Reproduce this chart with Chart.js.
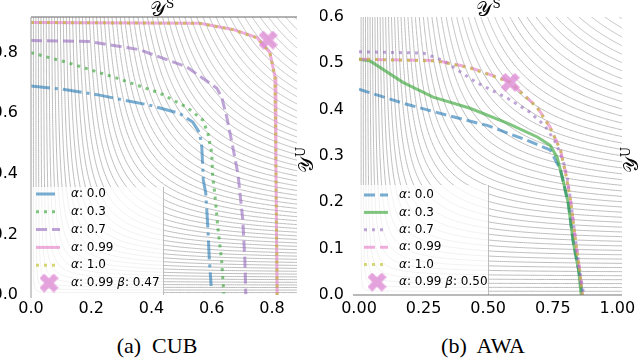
<!DOCTYPE html>
<html>
<head>
<meta charset="utf-8">
<script src="https://cdn.jsdelivr.net/npm/chart.js@4.4.1/dist/chart.umd.min.js"></script>
<style>
  html, body { margin: 0; padding: 0; background: #fff; }
  body { width: 640px; height: 363px; position: relative; overflow: hidden; }
  .panel { position: absolute; top: 0; width: 320px; height: 330px; }
  .cap { position: absolute; top: 333px; font-family: "Liberation Serif", serif; font-size: 22px;
         white-space: pre; transform: translateX(-50%); color: #000; }
</style>
</head>
<body>
<div class="panel" style="left:0"><canvas id="cub" width="320" height="330"></canvas></div>
<div class="panel" style="left:320px"><canvas id="awa" width="320" height="330"></canvas></div>
<div class="cap" style="left:157px">(a)  CUB</div>
<div class="cap" style="left:483px">(b)  AWA</div>
<script>
// ---- data ----
const cubLabels = ["α: 0.0", "α: 0.3", "α: 0.7", "α: 0.99", "α: 1.0", "α: 0.99 β: 0.47"];
const cubXTicks = [0, 0.2, 0.4, 0.6, 0.8];
const cubYTicks = [0, 0.2, 0.4, 0.6, 0.8];
const cubA00 = [[0, 0.69], [0.10, 0.68], [0.227, 0.66], [0.393, 0.627], [0.493, 0.60], [0.537, 0.571],
  [0.56, 0.535], [0.567, 0.488], [0.572, 0.38], [0.58, 0.337], [0.587, 0.224], [0.592, 0.116], [0.598, 0.03]];
const cubA03 = [[0, 0.80], [0.113, 0.77], [0.283, 0.717], [0.427, 0.667], [0.517, 0.62], [0.57, 0.578],
  [0.587, 0.535], [0.60, 0.47], [0.603, 0.39], [0.61, 0.337], [0.62, 0.225], [0.633, 0.112], [0.64, 0.005]];
const cubA07 = [[0, 0.84], [0.193, 0.837], [0.36, 0.81], [0.517, 0.753], [0.617, 0.683], [0.633, 0.653],
  [0.65, 0.587], [0.67, 0.488], [0.687, 0.40], [0.703, 0.248], [0.71, 0.115], [0.713, 0.003]];
const cubA099 = [[0, 0.90], [0.56, 0.897], [0.67, 0.877], [0.75, 0.85], [0.793, 0.80], [0.81, 0.72],
  [0.813, 0.42], [0.817, 0.0]];
const cubA10 = [[0, 0.90], [0.56, 0.897], [0.67, 0.876], [0.75, 0.849], [0.793, 0.80], [0.81, 0.72],
  [0.813, 0.42], [0.817, 0.0]];
const cubBest = [[0.787, 0.842]];

const awaLabels = ["α: 0.0", "α: 0.3", "α: 0.7", "α: 0.99", "α: 1.0", "α: 0.99 β: 0.50"];
const awaXTicks = [0, 0.25, 0.5, 0.75, 1.0];
const awaYTicks = [0, 0.1, 0.2, 0.3, 0.4, 0.5, 0.6];
const awaA00 = [[0, 0.444], [0.17, 0.414], [0.34, 0.388], [0.496, 0.366], [0.65, 0.334], [0.74, 0.313],
  [0.78, 0.27], [0.81, 0.198], [0.83, 0.112], [0.85, 0.054], [0.864, 0.004]];
const awaA03 = [[0, 0.509], [0.043, 0.505], [0.17, 0.459], [0.287, 0.427], [0.43, 0.403], [0.574, 0.371],
  [0.69, 0.341], [0.74, 0.323], [0.767, 0.297], [0.787, 0.254], [0.81, 0.198], [0.83, 0.112], [0.85, 0.054], [0.86, 0.0]];
const awaA07 = [[0, 0.525], [0.25, 0.522], [0.33, 0.505], [0.45, 0.46], [0.574, 0.425], [0.66, 0.395],
  [0.72, 0.365], [0.76, 0.33], [0.79, 0.29], [0.806, 0.254], [0.82, 0.2], [0.84, 0.11], [0.855, 0.05], [0.87, 0.0]];
const awaA099 = [[0, 0.509], [0.30, 0.506], [0.43, 0.491], [0.585, 0.46], [0.69, 0.405], [0.74, 0.362],
  [0.78, 0.313], [0.80, 0.263], [0.82, 0.2], [0.84, 0.11], [0.855, 0.05], [0.865, 0.0]];
const awaA10 = [[0, 0.509], [0.30, 0.505], [0.43, 0.490], [0.585, 0.459], [0.69, 0.404], [0.74, 0.361],
  [0.78, 0.312], [0.80, 0.262], [0.82, 0.2], [0.84, 0.11], [0.855, 0.05], [0.865, 0.0]];
const awaBest = [[0.585, 0.459]];

// harmonic-mean contour spacing (background)
const contourStep = 0.016;

// ---- styles ----
const BLUE = "rgba(31,119,180,0.6)", GREEN = "rgba(44,160,44,0.6)", PURPLE = "rgba(148,103,189,0.6)",
      PINK = "rgba(227,119,194,0.6)", OLIVE = "rgba(188,189,34,0.6)";
const DASH = [11, 5], DOT = [3, 5], DASHDOT = [19, 5, 3, 5], SOLID = [];

// filled "X" marker like matplotlib's
function makeX(size, color) {
  const c = document.createElement("canvas");
  c.width = size; c.height = size;
  const g = c.getContext("2d");
  const v = [[0.25, 0], [0.5, 0.25], [0.75, 0], [1, 0.25], [0.75, 0.5], [1, 0.75], [0.75, 1], [0.5, 0.75],
             [0.25, 1], [0, 0.75], [0.25, 0.5], [0, 0.25]];
  g.beginPath();
  v.forEach(([a, b], i) => i ? g.lineTo(a * size, b * size) : g.moveTo(a * size, b * size));
  g.closePath();
  g.fillStyle = color;
  g.fill();
  return c;
}
const xMark = makeX(19, "rgba(222,140,214,0.8)");

function toPts(arr) { return arr.map(([x, y]) => ({ x, y })); }

// contours H = 2xy/(x+y) = c
const contours = {
  id: "contours",
  beforeDatasetsDraw(chart) {
    const { ctx, chartArea: a, scales: { x, y } } = chart;
    const X = x.max * 1.05, Y = y.max * 1.05;
    ctx.save();
    ctx.beginPath();
    ctx.rect(a.left, a.top, a.right - a.left, a.bottom - a.top);
    ctx.clip();
    ctx.strokeStyle = "#bcbcbc";
    ctx.lineWidth = 1;
    for (let c = contourStep; c < 2 * Y; c += contourStep) {
      const pts = [];
      const n = 120;
      if (c < Y) for (let i = 0; i <= n; i++) { const yy = Y + (c - Y) * i / n; pts.push([c * yy / (2 * yy - c), yy]); }
      const x0 = c < Y ? c : c * Y / (2 * Y - c);
      for (let i = 0; i <= n; i++) { const xx = x0 + (X - x0) * i / n; pts.push([xx, c * xx / (2 * xx - c)]); }
      ctx.beginPath();
      pts.forEach(([px, py], i) => {
        const sx = x.getPixelForValue(px), sy = y.getPixelForValue(py);
        i ? ctx.lineTo(sx, sy) : ctx.moveTo(sx, sy);
      });
      ctx.stroke();
    }
    ctx.restore();
  }
};

function drawLabel(ctx, text, x, y) {
  let cx = x;
  for (const ch of text) {
    ctx.font = (ch === "α" || ch === "β") ? "italic 12px 'DejaVu Sans'" : "12px 'DejaVu Sans'";
    ctx.fillText(ch, cx, y);
    cx += ctx.measureText(ch).width;
  }
}

const legendBox = {
  id: "legendBox",
  afterDatasetsDraw(chart, args, o) {
    const { ctx, chartArea: a } = chart;
    ctx.save();
    ctx.fillStyle = "rgba(255,255,255,0.8)";
    ctx.fillRect(a.left, o.top, o.right - a.left, a.bottom - o.top);
    ctx.strokeStyle = "#bdbdbd";
    ctx.lineWidth = 1;
    ctx.beginPath(); ctx.moveTo(o.right + 0.5, o.top); ctx.lineTo(o.right + 0.5, a.bottom); ctx.stroke();
    ctx.textBaseline = "middle";
    ctx.fillStyle = "#000";
    chart.data.datasets.forEach((ds, i) => {
      const yy = o.top + o.first + i * o.gap;
      if (ds.showLine) {
        ctx.strokeStyle = ds.borderColor;
        ctx.lineWidth = ds.borderWidth;
        ctx.setLineDash(ds.borderDash);
        ctx.beginPath(); ctx.moveTo(a.left + 5, yy); ctx.lineTo(a.left + 29, yy); ctx.stroke();
        ctx.setLineDash([]);
      } else {
        ctx.drawImage(xMark, a.left + 18 - xMark.width / 2, yy - xMark.height / 2);
      }
      drawLabel(ctx, ds.label, a.left + 40, yy);
    });
    ctx.restore();
  }
};

function drawSym(ctx, x, y, sup) {
  ctx.textBaseline = "alphabetic";
  ctx.textAlign = "left";
  ctx.font = "20px 'DejaVu Serif'";
  const w = ctx.measureText("𝒴").width;
  ctx.font = "12px 'DejaVu Serif'";
  const ws = ctx.measureText(sup).width;
  const x0 = x - (w + ws) / 2;
  ctx.font = "20px 'DejaVu Serif'";
  ctx.fillText("𝒴", x0, y);
  ctx.font = "12px 'DejaVu Serif'";
  ctx.fillText(sup, x0 + w, y - 8);
}

const axisFrame = {
  id: "axisFrame",
  afterDraw(chart, args, o) {
    const { ctx, chartArea: a } = chart;
    ctx.save();
    ctx.lineWidth = 1.2;
    if (o.top) { ctx.strokeStyle = "#666"; ctx.beginPath(); ctx.moveTo(a.left, a.top); ctx.lineTo(a.right, a.top); ctx.stroke(); }
    if (o.left) { ctx.strokeStyle = "#aaa"; ctx.beginPath(); ctx.moveTo(a.left, a.top); ctx.lineTo(a.left, a.bottom + 3); ctx.stroke(); }
    if (o.bottom) { ctx.strokeStyle = "#777"; ctx.beginPath(); ctx.moveTo(a.left - 6, a.bottom); ctx.lineTo(a.right, a.bottom); ctx.stroke(); }
    ctx.fillStyle = "#000";
    drawSym(ctx, (a.left + a.right) / 2 - 2, a.top - 1, "S");
    ctx.translate(a.right + 16, (a.top + a.bottom) / 2 + 4);
    ctx.rotate(-Math.PI / 2);
    drawSym(ctx, 0, 0, "U");
    ctx.restore();
  }
};

function series(label, data, color, dash) {
  return { label, data: toPts(data), showLine: true, borderColor: color, borderWidth: 3,
           borderDash: dash, pointRadius: 0, fill: false, tension: 0 };
}

function makeChart(id, cfg) {
  const ds = cfg.sets;
  ds.push({ label: cfg.labels[5], data: toPts(cfg.best), showLine: false, pointStyle: xMark, pointRadius: 10 });
  ds.forEach((d, i) => { d.order = ds.length - i; });
  const dec = cfg.dec;
  return new Chart(document.getElementById(id), {
    type: "scatter",
    data: { datasets: ds },
    plugins: [contours, legendBox, axisFrame],
    options: {
      responsive: false,
      animation: false,
      devicePixelRatio: 1,
      layout: { padding: { left: 0, top: 17, right: cfg.padRight, bottom: 10 } },
      plugins: {
        legend: { display: false },
        tooltip: { enabled: false },
        legendBox: cfg.legend,
        axisFrame: cfg.frame
      },
      scales: {
        x: {
          type: "linear", min: 0, max: cfg.xmax,
          grid: { display: false }, border: { display: false },
          afterFit: s => { s.height = 25; },
          afterBuildTicks: s => { s.ticks = cfg.xt.map(v => ({ value: v })); },
          ticks: { font: { family: "DejaVu Sans", size: 16 }, color: "#000", padding: -4,
                   autoSkip: false, maxRotation: 0, callback: v => v.toFixed(dec[0]) }
        },
        y: {
          type: "linear", min: 0, max: cfg.ymax,
          grid: { display: false }, border: { display: false },
          afterFit: s => { s.width = cfg.yw; },
          afterBuildTicks: s => { s.ticks = cfg.yt.map(v => ({ value: v })); },
          ticks: { font: { family: "DejaVu Sans", size: 16 }, color: "#000", padding: cfg.yPad,
                   autoSkip: false, callback: v => v.toFixed(dec[1]) }
        }
      }
    }
  });
}

makeChart("cub", {
  labels: cubLabels, best: cubBest, xt: cubXTicks, yt: cubYTicks, dec: [1, 1],
  xmax: 0.883, ymax: 0.918, yw: 31, yPad: 5, padRight: 23,
  legend: { top: 187, right: 163, first: 7, gap: 17.8 },
  frame: { top: true, left: true, bottom: false },
  sets: [
    series(cubLabels[0], cubA00, BLUE, DASHDOT),
    series(cubLabels[1], cubA03, GREEN, DOT),
    series(cubLabels[2], cubA07, PURPLE, DASH),
    series(cubLabels[3], cubA099, PINK, SOLID),
    series(cubLabels[4], cubA10, OLIVE, DOT)
  ]
});

makeChart("awa", {
  labels: awaLabels, best: awaBest, xt: awaXTicks, yt: awaYTicks, dec: [2, 1],
  xmax: 1.018, ymax: 0.6, yw: 39, yPad: 7, padRight: 18,
  legend: { top: 185, right: 168, first: 10, gap: 17.4 },
  frame: { top: false, left: false, bottom: true },
  sets: [
    series(awaLabels[0], awaA00, BLUE, DASH),
    series(awaLabels[1], awaA03, GREEN, SOLID),
    series(awaLabels[2], awaA07, PURPLE, DOT),
    series(awaLabels[3], awaA099, PINK, DASH),
    series(awaLabels[4], awaA10, OLIVE, DOT)
  ]
});
</script>
</body>
</html>
